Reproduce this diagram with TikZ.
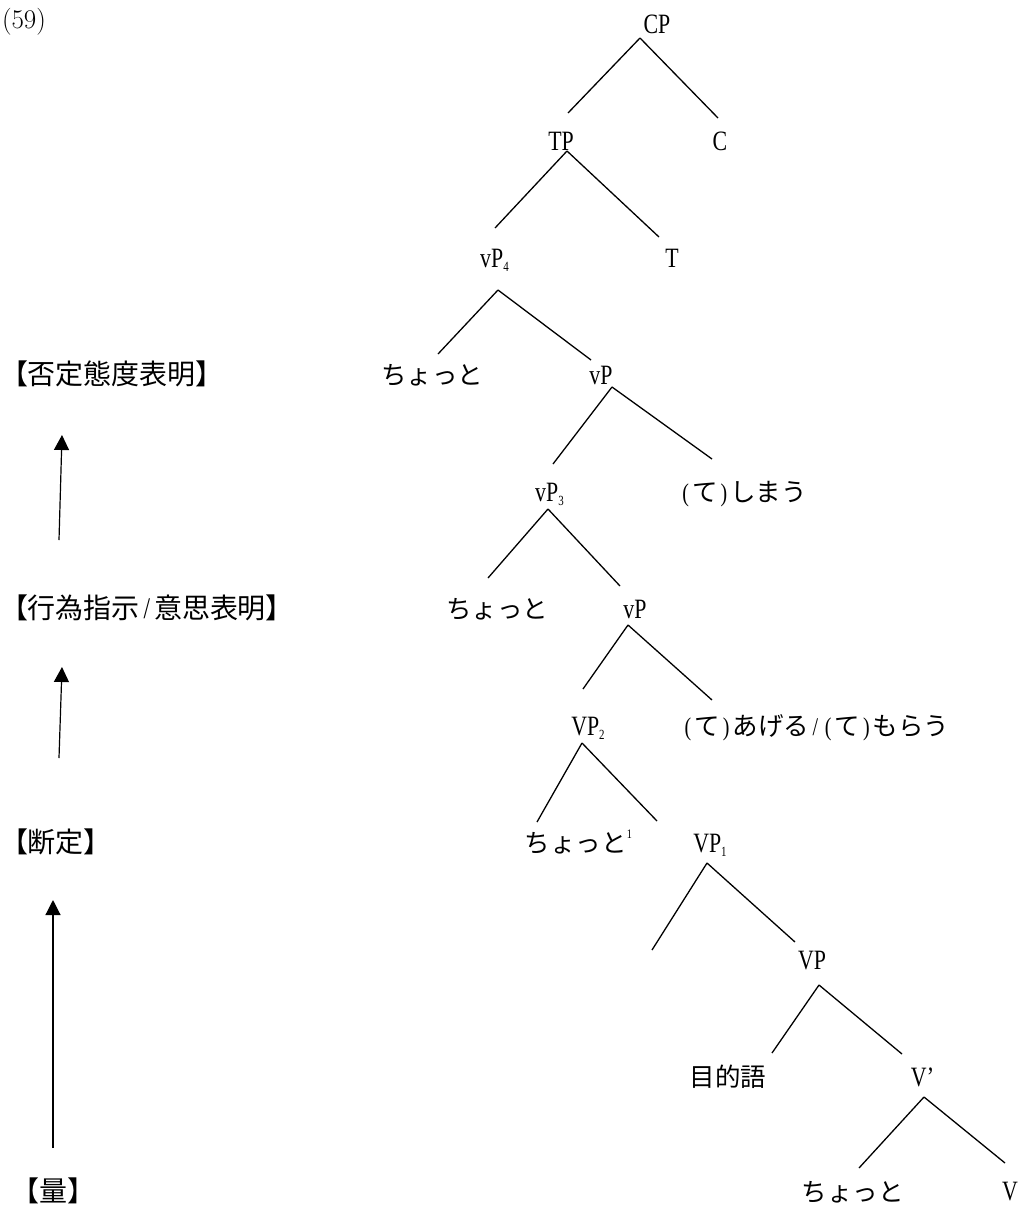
\documentclass[tikz,border=0pt]{standalone}
\usepackage{fontspec}
\newfontfamily\cjk{Noto Sans CJK JP}
\newfontfamily\lat[FakeStretch=0.78]{Liberation Serif}
\usetikzlibrary{arrows.meta}
\newcommand\hw[1]{\makebox[0.5em]{#1}}
\newcommand\sbs[1]{\raisebox{-4pt}{\fontsize{14}{14}\selectfont #1}}
\begin{document}
\begin{tikzpicture}[x=1pt,y=-1pt,
  every node/.style={inner sep=0pt,outer sep=0pt},
  tx/.style={anchor=base,font=\fontsize{25.5}{25.5}\selectfont\cjk},
  lt/.style={anchor=base,font=\fontsize{28}{28}\selectfont\lat},
  lab/.style={anchor=base west,font=\fontsize{28}{28}\selectfont\cjk},
  br/.style={line width=1.3pt},
  arr/.style={line width=1.2pt,-{Triangle[width=15pt,length=15pt]}}]
\useasboundingbox (0,0) rectangle (1023,1205);
\node[anchor=base west,font=\fontsize{27}{27}\selectfont\rmfamily] (ex) at (2,28) {(59)};
% tree nodes
\node[lt] (CP) at (657,33) {CP};
\node[lt] (TP) at (561,150) {TP};
\node[lt] (C) at (720,150) {C};
\node[lt] (vP4) at (494.5,267) {vP\sbs{4}};
\node[lt] (T) at (672,267) {T};
\node[tx] (a3) at (432,384) {ちょっと};
\node[lt] (vPa) at (601,384) {vP};
\node[lt] (vP3) at (549.5,501) {vP\sbs{3}};
\node[tx] (shimau) at (743,501) {\hw{\lat(}て\hw{\lat)}しまう};
\node[tx] (a5) at (497,618) {ちょっと};
\node[lt] (vPb) at (635,618) {vP};
\node[lt] (VP2) at (588,735) {VP\sbs{2}};
\node[tx] (ageru) at (815.5,735) {\hw{\lat(}て\hw{\lat)}あげる\hw{\lat/}\hw{\lat(}て\hw{\lat)}もらう};
\node[tx] (a7) at (578.5,852) {ちょっと\raisebox{14pt}{\fontsize{13}{13}\selectfont\lat 1}};
\node[lt] (VP1) at (710,852) {VP\sbs{1}};
\coordinate (e1) at (652,950);
\node[lt] (VPc) at (812,969) {VP};
\node[tx] (obj) at (728,1086) {目的語};
\node[lt] (Vbar) at (922.5,1086) {V’};
\node[tx] (a10) at (852.5,1201) {ちょっと};
\node[lt] (V) at (1010,1200) {V};
% branches
\draw[br] ([shift={(-17,5)}]CP.base) -- ([shift={(7,-37)}]TP.base);
\draw[br] ([shift={(-17,5)}]CP.base) -- ([shift={(-2,-32)}]C.base);
\draw[br] ([shift={(6,1)}]TP.base) -- ([shift={(0.5,-39)}]vP4.base);
\draw[br] ([shift={(6,1)}]TP.base) -- ([shift={(-13,-30)}]T.base);
\draw[br] ([shift={(3.5,23)}]vP4.base) -- ([shift={(6,-30)}]a3.base);
\draw[br] ([shift={(3.5,23)}]vP4.base) -- ([shift={(-10,-24)}]vPa.base);
\draw[br] ([shift={(11,3)}]vPa.base) -- ([shift={(3.5,-37)}]vP3.base);
\draw[br] ([shift={(11,3)}]vPa.base) -- ([shift={(-31,-42)}]shimau.base);
\draw[br] ([shift={(-1.5,8)}]vP3.base) -- ([shift={(-9,-40)}]a5.base);
\draw[br] ([shift={(-1.5,8)}]vP3.base) -- ([shift={(-15,-32)}]vPb.base);
\draw[br] ([shift={(-7,7)}]vPb.base) -- ([shift={(-5,-46)}]VP2.base);
\draw[br] ([shift={(-7,7)}]vPb.base) -- ([shift={(-103.5,-35)}]ageru.base);
\draw[br] ([shift={(-6,8)}]VP2.base) -- ([shift={(-41.5,-30)}]a7.base);
\draw[br] ([shift={(-6,8)}]VP2.base) -- ([shift={(-53,-31)}]VP1.base);
\draw[br] ([shift={(-3,11)}]VP1.base) -- (e1);
\draw[br] ([shift={(-3,11)}]VP1.base) -- ([shift={(-17,-27)}]VPc.base);
\draw[br] ([shift={(7,16)}]VPc.base) -- ([shift={(44,-33)}]obj.base);
\draw[br] ([shift={(7,16)}]VPc.base) -- ([shift={(-20.5,-32)}]Vbar.base);
\draw[br] ([shift={(1.5,11)}]Vbar.base) -- ([shift={(6.5,-33)}]a10.base);
\draw[br] ([shift={(1.5,11)}]Vbar.base) -- ([shift={(-5,-37)}]V.base);
% side labels
\node[lab] (L1) at (0,384) {【否定態度表明】};
\node[lab] (L2) at (0,618) {【行為指示\hw{\fontsize{30}{30}\selectfont\lat/}意思表明】};
\node[lab] (L3) at (0,852) {【断定】};
\node[lab] (L4) at (12,1201) {【量】};
\draw[arr] ([shift={(59,-78)}]L2.base west) -- ([shift={(62,51)}]L1.base west);
\draw[arr] ([shift={(59,-94)}]L3.base west) -- ([shift={(62,49)}]L2.base west);
\draw[arr] ([shift={(41,-53)}]L4.base west) -- ([shift={(53,48)}]L3.base west);
\end{tikzpicture}
\end{document}
